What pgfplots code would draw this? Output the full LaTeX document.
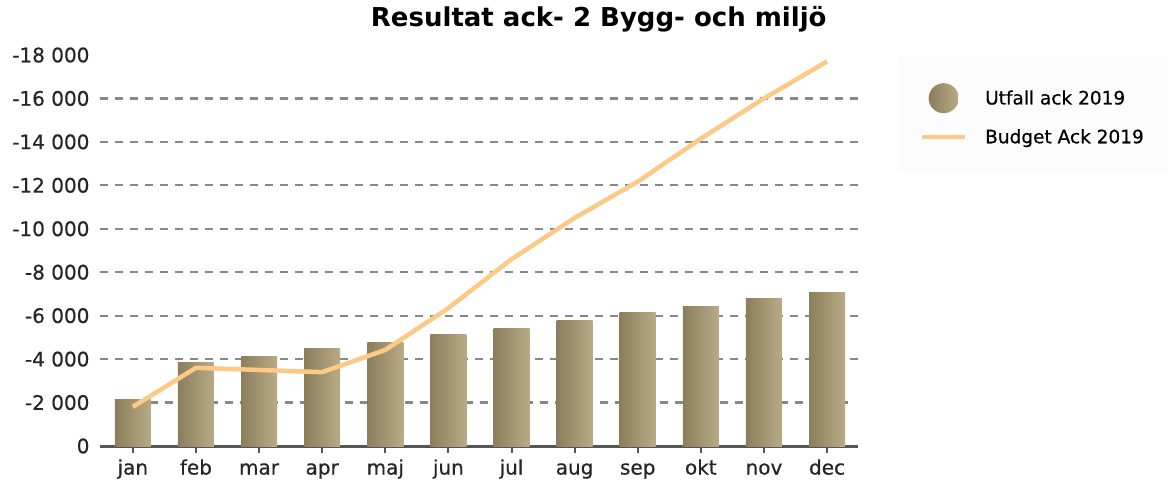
\documentclass[border=0pt]{standalone}
\usepackage{pgfplots}
\pgfplotsset{compat=1.18}
\usepackage{fontspec}
\setmainfont{DejaVu Sans}
\newfontfamily\tickfont{DejaVu Sans}[FakeBold=0.6]
\definecolor{barL}{HTML}{8C7E5C}
\definecolor{barR}{HTML}{B8AB86}
\definecolor{budget}{HTML}{FCC987}
\definecolor{gridc}{HTML}{888888}
\definecolor{axisc}{HTML}{555555}
\pgfplotsset{
  barsty/.style={ybar, bar width=36pt, draw=none, left color=barL, right color=barR,
    legend image code/.code={\shade[left color=barL,right color=barR] (21.5pt,0pt) circle (15pt);}},
}
\begin{document}
\begin{tikzpicture}
\begin{axis}[
  at={(0pt,0pt)}, anchor=south west,
  scale only axis, width=758pt, height=391pt,
  xmin=-0.52, xmax=11.49, ymin=-18000, ymax=0, y dir=reverse,
  scaled y ticks=false,
  axis x line*=bottom, axis y line*=left,
  y axis line style={draw=none},
  x axis line style={line width=3pt, color=axisc, -},
  xtick={0,...,11},
  xticklabels={jan,feb,mar,apr,maj,jun,jul,aug,sep,okt,nov,dec},
  ytick={-16000,-14000,-12000,-10000,-8000,-6000,-4000,-2000},
  yticklabels={{-16 000},{-14 000},{-12 000},{-10 000},{-8 000},{-6 000},{-4 000},{-2 000}},
  extra y ticks={-18000,0},
  extra y tick labels={{-18 000},0},
  extra y tick style={grid=none},
  ymajorgrids,
  major grid style={gridc, line width=2.2pt, dash pattern=on 8pt off 7pt, shorten <=20pt, shorten >=6pt},
  xtick align=outside,
  ytick align=outside,
  major tick length=7pt,
  xtick style={axisc, line width=2pt},
  ytick style={draw=none},
  tick label style={font=\tickfont\fontsize{20}{24}\selectfont, color=black!85},
  xticklabel style={text height=15pt, text depth=5pt, yshift=-3pt},
  title={Resultat ack- 2 Bygg- och miljö},
  title style={font=\bfseries\fontsize{26}{30}\selectfont, at={(0.658,1)}, anchor=base, yshift=22pt},
  legend style={at={(1,1)}, anchor=north west, xshift=40pt, yshift=-2pt,
    draw=none, fill=black!1, inner xsep=22pt, inner ysep=26pt,
    row sep=14pt, column sep=16pt, font=\tickfont\fontsize{18.5}{22}\selectfont},
  legend cell align=left,
]
\addplot[barsty] coordinates {(0,-2150)};
\addlegendentry{Utfall ack 2019}
\addplot[barsty, forget plot] coordinates {(1,-3830)};
\addplot[barsty, forget plot] coordinates {(2,-4100)};
\addplot[barsty, forget plot] coordinates {(3,-4470)};
\addplot[barsty, forget plot] coordinates {(4,-4750)};
\addplot[barsty, forget plot] coordinates {(5,-5115)};
\addplot[barsty, forget plot] coordinates {(6,-5390)};
\addplot[barsty, forget plot] coordinates {(7,-5760)};
\addplot[barsty, forget plot] coordinates {(8,-6130)};
\addplot[barsty, forget plot] coordinates {(9,-6400)};
\addplot[barsty, forget plot] coordinates {(10,-6770)};
\addplot[barsty, forget plot] coordinates {(11,-7050)};
\addplot[color=budget, line width=4.5pt, line join=round, no marks,
  legend image code/.code={\draw[budget, line width=4pt] (0pt,0pt) -- (43pt,0pt);}]
  coordinates {(0,-1800) (1,-3600) (2,-3500) (3,-3400) (4,-4420) (5,-6350)
               (6,-8600) (7,-10500) (8,-12170) (9,-14150) (10,-16000) (11,-17700)};
\addlegendentry{Budget Ack 2019}
\end{axis}
\pgfresetboundingbox
\path (-100pt,-40pt) rectangle (1068pt,446pt);
\end{tikzpicture}
\end{document}
